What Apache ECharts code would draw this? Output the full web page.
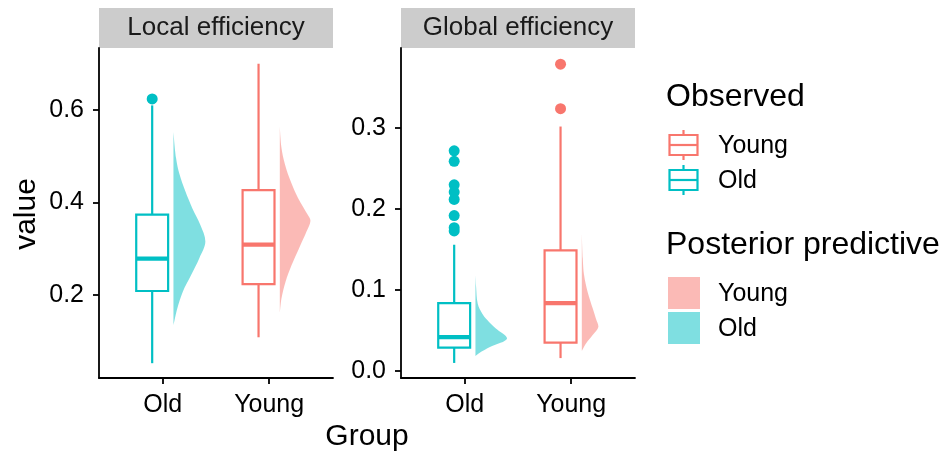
<!DOCTYPE html>
<html>
<head>
<meta charset="utf-8">
<script src="https://cdn.jsdelivr.net/npm/echarts@6/dist/echarts.min.js"></script>
<style>
  html, body { margin: 0; padding: 0; background: #fff; }
  #chart { width: 941px; height: 454px; }
</style>
</head>
<body>
<div id="chart"></div>
<script>
// categories
const groups = ['Old', 'Young'];
const panelTitles = ['Local efficiency', 'Global efficiency'];

// observed box stats: [lower whisker, Q1, median, Q3, upper whisker]
const localOldBox = [0.053, 0.209, 0.279, 0.374, 0.61];
const localYoungBox = [0.109, 0.224, 0.309, 0.427, 0.70];
const globalOldBox = [0.010, 0.029, 0.042, 0.084, 0.156];
const globalYoungBox = [0.016, 0.035, 0.084, 0.149, 0.302];

// outliers
const localOldOutliers = [0.624];
const localYoungOutliers = [];
const globalOldOutliers = [0.272, 0.259, 0.230, 0.221, 0.212, 0.192, 0.177, 0.173];
const globalYoungOutliers = [0.379, 0.324];

// posterior predictive densities: [value, relative density]
const localOldDens = [[0.552, 0], [0.497, 0.08], [0.461, 0.19], [0.425, 0.37], [0.388, 0.59],
  [0.352, 0.84], [0.316, 1.0], [0.280, 0.81], [0.243, 0.55], [0.207, 0.29], [0.171, 0.12], [0.135, 0]];
const localYoungDens = [[0.564, 0], [0.519, 0.05], [0.483, 0.16], [0.446, 0.34], [0.410, 0.57],
  [0.374, 0.87], [0.361, 0.96], [0.338, 0.84], [0.301, 0.60], [0.265, 0.37], [0.229, 0.18], [0.192, 0.05], [0.160, 0]];
const globalOldDens = [[0.1185, 0], [0.104, 0.02], [0.0835, 0.07], [0.0712, 0.21], [0.063, 0.37],
  [0.0527, 0.63], [0.0403, 0.99], [0.030, 0.47], [0.0218, 0.10], [0.0185, 0]];
const globalYoungDens = [[0.170, 0], [0.139, 0.03], [0.1185, 0.07], [0.098, 0.18], [0.0774, 0.34],
  [0.065, 0.44], [0.0547, 0.52], [0.0444, 0.34], [0.034, 0.13], [0.0247, 0]];

// tick labels
const localTicks = [0.2, 0.4, 0.6];
const globalTicks = [0, 0.1, 0.2, 0.3];

const FONT = '"Liberation Sans", Arial, sans-serif';
const colors = ['#00BFC4', '#F8766D'];
const fills = ['rgba(0,191,196,0.5)', 'rgba(248,118,109,0.5)'];
const BOX_SHIFT = -0.1, BOX_HALF = 0.15, VIOLIN_SHIFT = 0.1, VIOLIN_SCALE = 0.3;

const panels = [
  { boxes: [localOldBox, localYoungBox], outliers: [localOldOutliers, localYoungOutliers],
    dens: [localOldDens, localYoungDens], range: [0.021, 0.734], ticks: localTicks, left: 99 },
  { boxes: [globalOldBox, globalYoungBox], outliers: [globalOldOutliers, globalYoungOutliers],
    dens: [globalOldDens, globalYoungDens], range: [-0.0086, 0.399], ticks: globalTicks, left: 401 }
];
const PANEL_W = 234, TOP = 48, PANEL_H = 330;

function boxRenderer(color) {
  return function (params, api) {
    const x = api.value(0) + BOX_SHIFT;
    const hw = api.size([BOX_HALF, 0])[0];
    const lo = api.coord([x, api.value(1)]);
    const q1 = api.coord([x, api.value(2)]);
    const md = api.coord([x, api.value(3)]);
    const q3 = api.coord([x, api.value(4)]);
    const hi = api.coord([x, api.value(5)]);
    const line = { stroke: color, lineWidth: 2.2 };
    return {
      type: 'group',
      children: [
        { type: 'line', shape: { x1: lo[0], y1: lo[1], x2: q1[0], y2: q1[1] }, style: line },
        { type: 'line', shape: { x1: q3[0], y1: q3[1], x2: hi[0], y2: hi[1] }, style: line },
        { type: 'rect', shape: { x: q3[0] - hw, y: q3[1], width: 2 * hw, height: q1[1] - q3[1] },
          style: { fill: '#fff', stroke: color, lineWidth: 2.2 } },
        { type: 'line', shape: { x1: md[0] - hw, y1: md[1], x2: md[0] + hw, y2: md[1] },
          style: { stroke: color, lineWidth: 4.2 } }
      ]
    };
  };
}

function violinRenderer(dens, fill) {
  return function (params, api) {
    const x0 = api.value(0) + VIOLIN_SHIFT;
    const pts = dens.map(d => api.coord([x0 + d[1] * VIOLIN_SCALE, d[0]]));
    return {
      type: 'polygon',
      shape: { points: pts, smooth: 0.35, smoothConstraint: [pts[0], pts[0]] },
      style: { fill: fill, stroke: null }
    };
  };
}

const grid = [], xAxis = [], yAxis = [], series = [], graphic = [];

panels.forEach((p, pi) => {
  grid.push({ left: p.left, top: TOP, width: PANEL_W, height: PANEL_H });
  xAxis.push({
    type: 'value', gridIndex: pi, min: 0.4, max: 2.6,
    splitLine: { show: false },
    axisLine: { onZero: false, lineStyle: { color: '#000', width: 1.8 } },
    axisTick: { customValues: [1, 2], length: 6, lineStyle: { color: '#000', width: 1.8 } },
    axisLabel: { customValues: [1, 2], formatter: v => groups[Math.round(v) - 1],
      fontSize: 25, color: '#000', fontFamily: FONT, margin: 15 }
  });
  yAxis.push({
    type: 'value', gridIndex: pi, min: p.range[0], max: p.range[1],
    splitLine: { show: false },
    axisLine: { show: true, onZero: false, lineStyle: { color: '#000', width: 1.8 } },
    axisTick: { show: true, customValues: p.ticks, length: 6, lineStyle: { color: '#000', width: 1.8 } },
    axisLabel: { customValues: p.ticks, formatter: v => v.toFixed(1),
      fontSize: 25, color: '#000', fontFamily: FONT, margin: 15 }
  });

  groups.forEach((g, gi) => {
    series.push({
      type: 'custom', name: g, xAxisIndex: pi, yAxisIndex: pi,
      renderItem: violinRenderer(p.dens[gi], fills[gi]),
      data: [[gi + 1, p.dens[gi][0][0]]]
    });
    series.push({
      type: 'custom', name: g, xAxisIndex: pi, yAxisIndex: pi,
      renderItem: boxRenderer(colors[gi]),
      data: [[gi + 1].concat(p.boxes[gi])]
    });
    series.push({
      type: 'scatter', name: g, xAxisIndex: pi, yAxisIndex: pi,
      symbolSize: 11, itemStyle: { color: colors[gi], opacity: 1 },
      data: p.outliers[gi].map(v => [gi + 1 + BOX_SHIFT, v])
    });
  });

  // facet strip
  graphic.push({ type: 'rect', left: p.left, top: 8, shape: { width: PANEL_W, height: 40 },
    style: { fill: '#CCCCCC' } });
  graphic.push({ type: 'text', x: p.left + PANEL_W / 2, y: 28,
    style: { text: panelTitles[pi], fontSize: 26, fontFamily: FONT, fill: '#1A1A1A',
      align: 'center', verticalAlign: 'middle' } });
});

// axis titles
graphic.push({ type: 'text', x: 27, y: 214, rotation: Math.PI / 2,
  style: { text: 'value', fontSize: 30, fontFamily: FONT, fill: '#000', align: 'center', verticalAlign: 'middle' } });
graphic.push({ type: 'text', x: 367, y: 437,
  style: { text: 'Group', fontSize: 30, fontFamily: FONT, fill: '#000', align: 'center', verticalAlign: 'middle' } });

// legends
const legendOrder = [1, 0];
const txt = (t, x, y, size) => ({ type: 'text', x: x, y: y,
  style: { text: t, fontSize: size, fontFamily: FONT, fill: '#000', align: 'left', verticalAlign: 'middle' } });
graphic.push(txt('Observed', 666, 97, 32));
legendOrder.forEach((gi, k) => {
  const cy = 145 + k * 35, c = colors[gi];
  const st = { stroke: c, lineWidth: 2.2, fill: null };
  graphic.push({ type: 'line', shape: { x1: 683.5, y1: cy - 15, x2: 683.5, y2: cy - 10 }, style: st });
  graphic.push({ type: 'line', shape: { x1: 683.5, y1: cy + 10, x2: 683.5, y2: cy + 15 }, style: st });
  graphic.push({ type: 'rect', shape: { x: 669.5, y: cy - 10, width: 28, height: 20 }, style: st });
  graphic.push({ type: 'line', shape: { x1: 669.5, y1: cy, x2: 697.5, y2: cy }, style: st });
  graphic.push(txt(groups[gi], 718, cy + 1, 25));
});
graphic.push(txt('Posterior predictive', 666, 245, 32));
legendOrder.forEach((gi, k) => {
  const top = 277 + k * 35;
  graphic.push({ type: 'rect', shape: { x: 668, y: top, width: 32, height: 32 }, style: { fill: fills[gi] } });
  graphic.push(txt(groups[gi], 718, top + 17, 25));
});

const chart = echarts.init(document.getElementById('chart'));
chart.setOption({
  animation: false,
  backgroundColor: '#fff',
  textStyle: { fontFamily: FONT },
  grid: grid,
  xAxis: xAxis,
  yAxis: yAxis,
  series: series,
  graphic: graphic
});
</script>
</body>
</html>
